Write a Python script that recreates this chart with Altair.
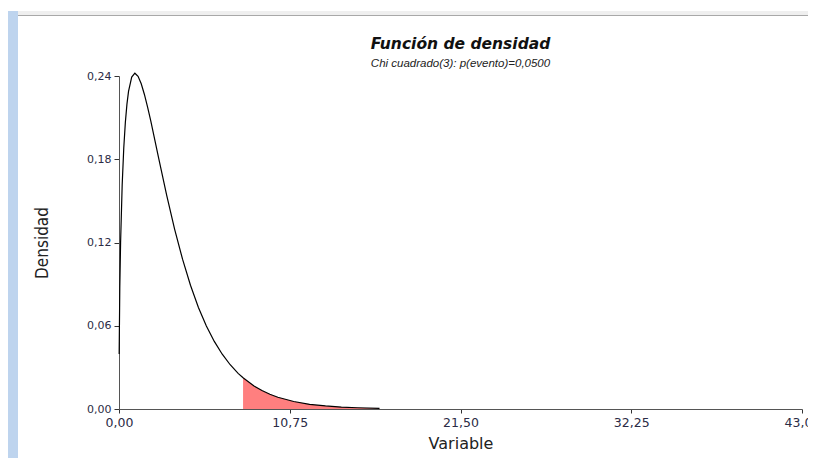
import altair as alt
import pandas as pd

# Curve (density of the variable)
x_vals = [0.01, 0.05, 0.1, 0.2, 0.3, 0.4, 0.5, 0.6, 0.8, 1.0, 1.2, 1.4, 1.6, 1.8, 2.0,
          2.5, 3.0, 3.5, 4.0, 4.5, 5.0, 5.5, 6.0, 6.5, 7.0, 7.5, 7.81, 8.5, 9.0, 9.5,
          10.0, 11.0, 12.0, 13.0, 14.0, 15.0, 16.4]
dens_vals = [0.0397, 0.0870, 0.1200, 0.1614, 0.1881, 0.2066, 0.2197, 0.2289, 0.2392, 0.2420,
             0.2398, 0.2344, 0.2267, 0.2176, 0.2076, 0.1807, 0.1542, 0.1297, 0.1080, 0.0892,
             0.0732, 0.0598, 0.0487, 0.0395, 0.0319, 0.0257, 0.0225, 0.0166, 0.0133, 0.0106,
             0.0085, 0.0054, 0.0034, 0.0022, 0.0014, 0.0009, 0.0004]
critical_value = 7.81
x_ticks = [0, 10.75, 21.5, 32.25, 43]
y_ticks = [0, 0.06, 0.12, 0.18, 0.24]
title_text = "Función de densidad"
subtitle_text = "Chi cuadrado(3): p(evento)=0,0500"

df = pd.DataFrame({"x": x_vals, "y": dens_vals})
tail = df[df["x"] >= critical_value]

label_expr = "replace(format(datum.value, '.2f'), '.', ',')"

xs = alt.Scale(domain=[0, 43], nice=False, zero=True)
ys = alt.Scale(domain=[0, 0.24], nice=False, zero=True)

narrow = "Liberation Sans Narrow, DejaVu Sans Condensed, Roboto Condensed, Liberation Sans"

x_axis = alt.Axis(values=x_ticks, labelExpr=label_expr, title="Variable", grid=False,
                  tickSize=4, labelPadding=3, labelFont="DejaVu Sans", labelFontSize=12.5,
                  labelColor="#2b2b45", titleFont="DejaVu Sans", titleFontSize=16,
                  titleFontWeight="normal", titleColor="#222", titlePadding=7,
                  domainColor="#555", tickColor="#333", labelFlush=False)
y_axis = alt.Axis(values=y_ticks, labelExpr=label_expr, title="Densidad", grid=False,
                  tickSize=5, labelPadding=3, labelFont="DejaVu Sans", labelFontSize=11,
                  labelColor="#2b2b45", titleFont=narrow, titleFontSize=17,
                  titleFontWeight="normal", titleColor="#222", titlePadding=35,
                  domainColor="#555", tickColor="#333")

area = alt.Chart(tail).mark_area(color="#ff7f7f", opacity=1).encode(
    x=alt.X("x:Q", scale=xs, axis=x_axis),
    y=alt.Y("y:Q", scale=ys, axis=y_axis),
)
line = alt.Chart(df).mark_line(color="black", strokeWidth=1.2).encode(
    x=alt.X("x:Q", scale=xs),
    y=alt.Y("y:Q", scale=ys),
)

one = pd.DataFrame({"a": [0]})
blue_bar = alt.Chart(one).mark_rect(color="#bed4ee").encode(
    x=alt.value(-111), x2=alt.value(-101), y=alt.value(-65), y2=alt.value(390))
top_band = alt.Chart(one).mark_rect(color="#efefef").encode(
    x=alt.value(-101), x2=alt.value(700), y=alt.value(-65), y2=alt.value(-61))
top_line = alt.Chart(one).mark_rect(color="#a8a8a8").encode(
    x=alt.value(-101), x2=alt.value(700), y=alt.value(-61), y2=alt.value(-60))

title_df = pd.DataFrame({"t": [title_text]})
sub_df = pd.DataFrame({"t": [subtitle_text]})
title_mark = alt.Chart(title_df).mark_text(
    font="DejaVu Sans", fontSize=15.5, fontWeight="bold", fontStyle="italic",
    color="#111", align="center", baseline="middle").encode(
    text="t:N", x=alt.value(341.5), y=alt.value(-32))
sub_mark = alt.Chart(sub_df).mark_text(
    font="Liberation Sans", fontSize=11.5, fontStyle="italic",
    color="#222", align="center", baseline="middle").encode(
    text="t:N", x=alt.value(341.5), y=alt.value(-12))

chart = alt.layer(blue_bar, top_band, top_line, area, line, title_mark, sub_mark).properties(
    width=683, height=333,
    autosize=alt.AutoSizeParams(type="none"),
    padding={"left": 111, "top": 68, "right": 6, "bottom": 49},
).configure(background="white", view=alt.ViewConfig(stroke=None))

chart.save("out.html", embed_options={"renderer": "svg", "actions": False})
